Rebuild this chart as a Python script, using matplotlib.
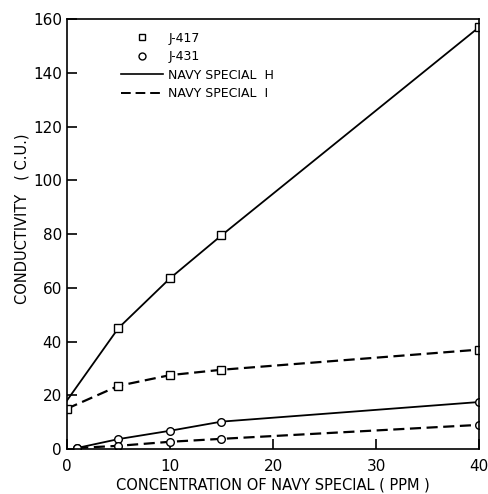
import matplotlib as mpl
mpl.use('Agg')
import matplotlib.pyplot as plt
from matplotlib.lines import Line2D

rcParams = plt.rcParams
rcParams['font.family'] = 'DejaVu Sans'

########################################
# data

x_417 = [0, 5, 10, 15, 40]
h_417 = [18, 45, 63.5, 79.5, 157]
i_417 = [15, 23.5, 27.5, 29.5, 37]

x_431 = [1, 5, 10, 15, 40]
h_431 = [0.4, 3.7, 6.8, 10.2, 17.5]
i_431 = [0.4, 1.2, 2.7, 3.8, 9]

xticks = [0, 10, 20, 30, 40]
yticks = [0, 20, 40, 60, 80, 100, 120, 140, 160]

########################################

fig = plt.figure(figsize=(4.88, 4.94), dpi=100)
ax = fig.add_axes([0.137, 0.091, 0.845, 0.8705])

mk = dict(mfc='white', mec='black', mew=1.0, ms=5.5, color='black')
dash = (0, (5, 2.5))

ax.plot(x_417, h_417, '-', lw=1.3, marker='s', markevery=[1, 2, 3, 4], **mk)
ax.plot(x_417, i_417, ls=dash, lw=1.6, marker='s', **mk)
ax.plot(x_431, h_431, '-', lw=1.3, marker='o', **mk)
ax.plot(x_431, i_431, ls=dash, lw=1.6, marker='o', **mk)

ax.set_xlim(0, 40)
ax.set_ylim(0, 160)
ax.set_xticks(xticks)
ax.set_yticks(yticks)
ax.tick_params(direction='in', length=7, width=1.2, labelsize=11)
ax.tick_params(axis='x', pad=7)
ax.tick_params(axis='y', pad=3.5)
for s in ax.spines.values():
    s.set_linewidth(1.2)

ax.set_xlabel('CONCENTRATION OF NAVY SPECIAL ( PPM )', fontsize=10.5, labelpad=3)
ax.set_ylabel('CONDUCTIVITY   ( C.U.)', fontsize=10.5)
ax.yaxis.set_label_coords(-0.09, 0.535)

handles = [
    Line2D([], [], ls='none', marker='s', mfc='white', mec='black', ms=5),
    Line2D([], [], ls='none', marker='o', mfc='white', mec='black', ms=5),
    Line2D([], [], color='black', lw=1.2),
    Line2D([], [], color='black', lw=1.4, ls=dash),
]
labels = ['J-417', 'J-431', 'NAVY SPECIAL  H', 'NAVY SPECIAL  I']
ax.legend(handles, labels, loc='upper left', bbox_to_anchor=(0.104, 0.997),
          frameon=False, fontsize=9, handlelength=3.4, handletextpad=0.4,
          labelspacing=0.45)

plt.savefig('out.png', dpi=100)
